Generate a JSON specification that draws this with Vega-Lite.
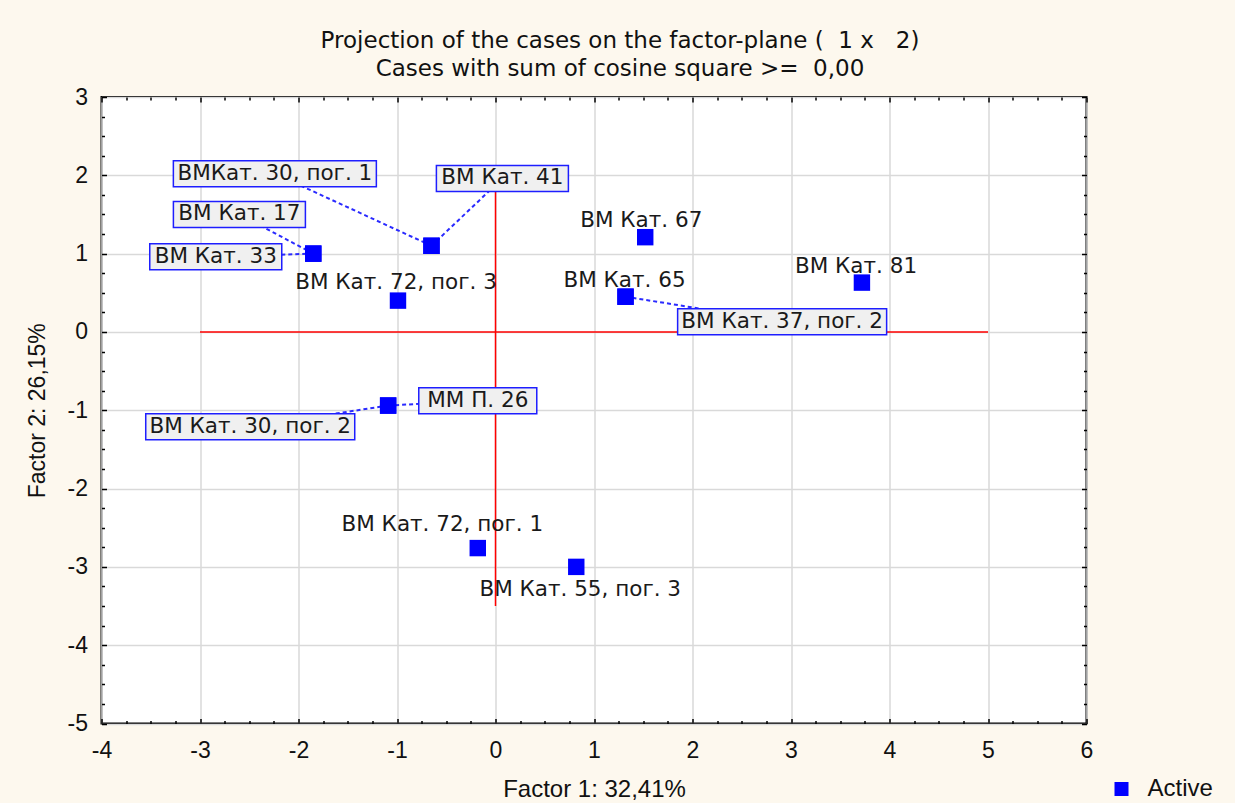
{
  "$schema": "https://vega.github.io/schema/vega-lite/v6.json",
  "autosize": "none",
  "width": 985,
  "height": 626.5,
  "padding": {"left": 101.5, "top": 97, "right": 148.5, "bottom": 79.5},
  "background": "#fdf8ee",
  "title": {
    "text": ["Projection of the cases on the factor-plane (\u00a0 1 x \u00a0 2)", "Cases with sum of cosine square >= \u00a00,00"],
    "font": "DejaVu Sans",
    "fontSize": 23,
    "fontWeight": "normal",
    "color": "#111111",
    "lineHeight": 28,
    "anchor": "middle",
    "dx": 26,
    "offset": 5
  },
  "datasets": {
    "cases": [
      {"case": "ВМ Кат. 33", "f1": -1.85, "f2": 1.0, "lx": -2.84, "ly": 0.96, "group": "Active"},
      {"case": "ВМ Кат. 17", "f1": -1.85, "f2": 1.0, "lx": -2.6, "ly": 1.5, "group": "Active"},
      {"case": "ВМКат. 30, пог. 1", "f1": -0.65, "f2": 1.1, "lx": -2.24, "ly": 2.02, "group": "Active"},
      {"case": "ВМ Кат. 41", "f1": -0.65, "f2": 1.1, "lx": 0.07, "ly": 1.96, "group": "Active"},
      {"case": "ВМ Кат. 72, пог. 3", "f1": -0.99, "f2": 0.4, "lx": -1.01, "ly": 0.62, "group": "Active"},
      {"case": "ВМ Кат. 67", "f1": 1.52, "f2": 1.21, "lx": 1.48, "ly": 1.42, "group": "Active"},
      {"case": "ВМ Кат. 65", "f1": 1.32, "f2": 0.45, "lx": 1.31, "ly": 0.65, "group": "Active"},
      {"case": "ВМ Кат. 37, пог. 2", "f1": 1.32, "f2": 0.45, "lx": 2.91, "ly": 0.13, "group": "Active"},
      {"case": "ВМ Кат. 81", "f1": 3.72, "f2": 0.63, "lx": 3.66, "ly": 0.83, "group": "Active"},
      {"case": "ММ П. 26", "f1": -1.09, "f2": -0.94, "lx": -0.18, "ly": -0.88, "group": "Active"},
      {"case": "ВМ Кат. 30, пог. 2", "f1": -1.09, "f2": -0.94, "lx": -2.49, "ly": -1.21, "group": "Active"},
      {"case": "ВМ Кат. 72, пог. 1", "f1": -0.18, "f2": -2.76, "lx": -0.54, "ly": -2.47, "group": "Active"},
      {"case": "ВМ Кат. 55, пог. 3", "f1": 0.82, "f2": -3.0, "lx": 0.86, "ly": -3.29, "group": "Active"}
    ],
    "origin": [
      {"ax": -3, "ax2": 5, "ay": 0, "ay2": 0},
      {"ax": 0, "ax2": 0, "ay": 1.79, "ay2": -3.5}
    ]
  },
  "resolve": {"axis": {"x": "independent", "y": "independent"}},
  "layer": [
    {
      "data": {"name": "origin"},
      "mark": {"type": "rule", "color": "#ff0000", "strokeWidth": 1.5},
      "encoding": {
        "x": {
          "field": "ax", "type": "quantitative",
          "scale": {"domain": [-4, 6], "nice": false, "zero": false},
          "axis": {
            "orient": "top", "title": null, "labels": false, "grid": false, "domain": false,
            "values": [-4,-3.75,-3.5,-3.25,-3,-2.75,-2.5,-2.25,-2,-1.75,-1.5,-1.25,-1,-0.75,-0.5,-0.25,0,0.25,0.5,0.75,1,1.25,1.5,1.75,2,2.25,2.5,2.75,3,3.25,3.5,3.75,4,4.25,4.5,4.75,5,5.25,5.5,5.75,6],
            "tickSize": {"condition": {"test": "datum.value % 1 === 0", "value": -5}, "value": -3}
          }
        },
        "x2": {"field": "ax2"},
        "y": {
          "field": "ay", "type": "quantitative",
          "scale": {"domain": [-5, 3], "nice": false, "zero": false},
          "axis": {
            "orient": "right", "title": null, "labels": false, "grid": false, "domain": false,
            "values": [-5,-4.75,-4.5,-4.25,-4,-3.75,-3.5,-3.25,-3,-2.75,-2.5,-2.25,-2,-1.75,-1.5,-1.25,-1,-0.75,-0.5,-0.25,0,0.25,0.5,0.75,1,1.25,1.5,1.75,2,2.25,2.5,2.75,3],
            "tickSize": {"condition": {"test": "datum.value % 1 === 0", "value": -5}, "value": -3}
          }
        },
        "y2": {"field": "ay2"}
      }
    },
    {
      "data": {"name": "cases"},
      "transform": [{"filter": {"field": "case", "oneOf": ["ВМ Кат. 33", "ВМ Кат. 17", "ВМКат. 30, пог. 1", "ВМ Кат. 41", "ВМ Кат. 37, пог. 2", "ММ П. 26", "ВМ Кат. 30, пог. 2"]}}],
      "mark": {"type": "rule", "color": "#2a2aff", "strokeWidth": 2, "strokeDash": [4, 3]},
      "encoding": {
        "x": {"field": "f1", "type": "quantitative", "axis": null},
        "y": {"field": "f2", "type": "quantitative", "axis": null},
        "x2": {"field": "lx"},
        "y2": {"field": "ly"}
      }
    },
    {
      "data": {"name": "cases"},
      "transform": [{"filter": {"field": "case", "oneOf": ["ВМ Кат. 33", "ВМ Кат. 17", "ВМКат. 30, пог. 1", "ВМ Кат. 41", "ВМ Кат. 37, пог. 2", "ММ П. 26", "ВМ Кат. 30, пог. 2"]}}],
      "mark": {"type": "point", "filled": true, "fill": "#f0f0f0", "stroke": "#1e1eff", "strokeWidth": 1.5, "opacity": 1, "size": 4},
      "encoding": {
        "x": {"field": "lx", "type": "quantitative", "axis": null},
        "y": {"field": "ly", "type": "quantitative", "axis": null},
        "shape": {
          "field": "case", "type": "nominal", "legend": null,
          "scale": {
            "domain": ["ВМ Кат. 33", "ВМ Кат. 17", "ВМКат. 30, пог. 1", "ВМ Кат. 41", "ВМ Кат. 37, пог. 2", "ММ П. 26", "ВМ Кат. 30, пог. 2"],
            "range": ["M-66,-13H66V13H-66Z", "M-66,-13H66V13H-66Z", "M-101.5,-13H101.5V13H-101.5Z", "M-66,-13H66V13H-66Z", "M-104.5,-13H104.5V13H-104.5Z", "M-59,-13H59V13H-59Z", "M-104.5,-13H104.5V13H-104.5Z"]
          }
        }
      }
    },
    {
      "data": {"name": "cases"},
      "mark": {"type": "text", "font": "DejaVu Sans", "fontSize": 21.5, "color": "#1a1a1a", "align": "center", "baseline": "middle"},
      "encoding": {
        "x": {"field": "lx", "type": "quantitative", "axis": null},
        "y": {"field": "ly", "type": "quantitative", "axis": null},
        "text": {"field": "case"}
      }
    },
    {
      "data": {"name": "cases"},
      "mark": {"type": "point", "shape": "square", "filled": true, "size": 270, "opacity": 1},
      "encoding": {
        "x": {
          "field": "f1", "type": "quantitative",
          "axis": {
            "orient": "bottom", "title": "Factor 1: 32,41%", "grid": true,
            "values": [-4,-3.75,-3.5,-3.25,-3,-2.75,-2.5,-2.25,-2,-1.75,-1.5,-1.25,-1,-0.75,-0.5,-0.25,0,0.25,0.5,0.75,1,1.25,1.5,1.75,2,2.25,2.5,2.75,3,3.25,3.5,3.75,4,4.25,4.5,4.75,5,5.25,5.5,5.75,6],
            "labelExpr": "datum.value % 1 === 0 ? ('' + datum.value) : ''",
            "gridOpacity": {"condition": {"test": "datum.value % 1 !== 0", "value": 0}, "value": 1},
            "tickSize": {"condition": {"test": "datum.value % 1 === 0", "value": -5}, "value": -3},
            "labelFont": "Liberation Sans",
            "labelFontSize": 23,
            "labelColor": "#111111",
            "labelPadding": 21,
            "titlePadding": 13,
            "titleFont": "Liberation Sans",
            "titleFontSize": 24
          }
        },
        "y": {
          "field": "f2", "type": "quantitative",
          "axis": {
            "orient": "left", "title": "Factor 2: 26,15%", "grid": true,
            "values": [-5,-4.75,-4.5,-4.25,-4,-3.75,-3.5,-3.25,-3,-2.75,-2.5,-2.25,-2,-1.75,-1.5,-1.25,-1,-0.75,-0.5,-0.25,0,0.25,0.5,0.75,1,1.25,1.5,1.75,2,2.25,2.5,2.75,3],
            "labelExpr": "datum.value % 1 === 0 ? ('' + datum.value) : ''",
            "gridOpacity": {"condition": {"test": "datum.value % 1 !== 0", "value": 0}, "value": 1},
            "tickSize": {"condition": {"test": "datum.value % 1 === 0", "value": -5}, "value": -3},
            "labelFont": "Liberation Sans",
            "labelFontSize": 23,
            "labelColor": "#111111",
            "labelPadding": 19,
            "titlePadding": 18,
            "titleFont": "Liberation Sans",
            "titleFontSize": 23
          }
        },
        "color": {
          "field": "group", "type": "nominal",
          "scale": {"domain": ["Active"], "range": ["#0000ff"]},
          "legend": {
            "title": null, "orient": "none", "legendX": 1008, "legendY": 680,
            "symbolType": "square", "symbolSize": 196, "symbolStrokeWidth": 0,
            "labelFont": "Liberation Sans", "labelFontSize": 24, "labelColor": "#111111",
            "labelOffset": 14, "padding": 0
          }
        }
      }
    }
  ],
  "config": {
    "view": {"fill": "#ffffff", "stroke": "#000000", "strokeWidth": 2},
    "axis": {
      "labelFont": "Liberation Sans", "labelFontSize": 23, "labelColor": "#111111",
      "titleFont": "Liberation Sans", "titleFontWeight": "normal", "titleColor": "#111111",
      "domain": false, "tickColor": "#000000", "tickWidth": 1.5,
      "gridColor": "#d9d9d9", "gridWidth": 1.5,
      "labelOverlap": false, "labelFlush": false
    }
  }
}
